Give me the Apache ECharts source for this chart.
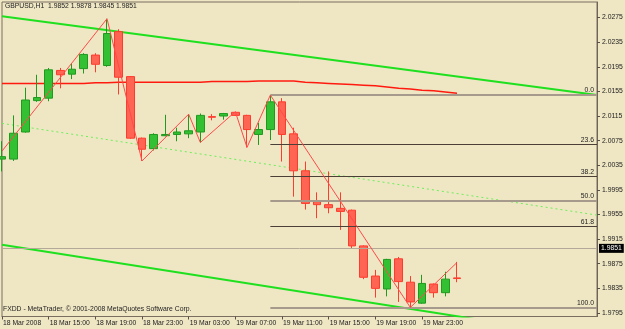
<!DOCTYPE html>
<html lang="en">
<head>
	<meta charset="UTF-8">
	<title>GBPUSD,H1</title>
	<style>
		html,body{background-color: #efe6c3;height: 100%;overflow: hidden;margin: 0;padding: 0;}
		#main{width: 625px;height: 329px;}
	</style>
</head>
<body>
	<div id="main"></div>
	<script src="https://cdn.jsdelivr.net/npm/echarts@6/dist/echarts.min.js"></script>
	<script>
		// hourly bars, 18 Mar 11:00 .. (empty space on the right up to 20 Mar 14:00)
		var categories = [
			'18 Mar 11:00','18 Mar 12:00','18 Mar 13:00','18 Mar 14:00','18 Mar 15:00','18 Mar 16:00','18 Mar 17:00',
			'18 Mar 18:00','18 Mar 19:00','18 Mar 20:00','18 Mar 21:00','18 Mar 22:00','18 Mar 23:00',
			'19 Mar 00:00','19 Mar 01:00','19 Mar 02:00','19 Mar 03:00','19 Mar 04:00','19 Mar 05:00','19 Mar 06:00',
			'19 Mar 07:00','19 Mar 08:00','19 Mar 09:00','19 Mar 10:00','19 Mar 11:00','19 Mar 12:00','19 Mar 13:00',
			'19 Mar 14:00','19 Mar 15:00','19 Mar 16:00','19 Mar 17:00','19 Mar 18:00','19 Mar 19:00','19 Mar 20:00',
			'19 Mar 21:00','19 Mar 22:00','19 Mar 23:00',
			'20 Mar 00:00','20 Mar 01:00','20 Mar 02:00','20 Mar 03:00','20 Mar 04:00','20 Mar 05:00','20 Mar 06:00',
			'20 Mar 07:00','20 Mar 08:00','20 Mar 09:00','20 Mar 10:00','20 Mar 11:00','20 Mar 12:00','20 Mar 13:00','20 Mar 14:00'
		];
		var xTickIndex = [0, 4, 8, 12, 16, 20, 24, 28, 32, 36];
		var xTickText = ['18 Mar 2008','18 Mar 15:00','18 Mar 19:00','18 Mar 23:00','19 Mar 03:00',
			'19 Mar 07:00','19 Mar 11:00','19 Mar 15:00','19 Mar 19:00','19 Mar 23:00'];
		var yTicks = [1.9795, 1.9835, 1.9875, 1.9915, 1.9955, 1.9995, 2.0035, 2.0075, 2.0115, 2.0155, 2.0195, 2.0235, 2.0275];

		var openP = [2.0045,2.0045,2.0089,2.0140,2.0144,2.0189,2.0183,2.0192,2.0214,2.0197,
			2.0252,2.0179,2.0079,2.0062,2.0083,2.0085,2.0086,2.0089,2.0114,2.0115,
			2.0121,2.0116,2.0085,2.0093,2.0138,2.0086,2.0026,1.9976,1.9971,1.9965,
			1.9962,1.9904,1.9855,1.9834,1.9883,1.9845,1.9811,1.9842,1.9828,1.9852];
		var highP = [2.0074,2.0116,2.0161,2.0182,2.0193,2.0193,2.0201,2.0217,2.0217,2.0273,
			2.0256,2.0180,2.0080,2.0087,2.0117,2.0096,2.0118,2.0119,2.0118,2.0120,
			2.0122,2.0117,2.0104,2.0149,2.0144,2.0096,2.0041,1.9991,2.0025,1.9991,
			1.9963,1.9905,1.9865,1.9883,1.9886,1.9855,1.9857,1.9843,1.9862,1.9878];
		var lowP = [2.0025,2.0042,2.0088,2.0138,2.0139,2.0160,2.0175,2.0184,2.0186,2.0195,
			2.0150,2.0078,2.0042,2.0059,2.0082,2.0074,2.0079,2.0072,2.0108,2.0109,
			2.0115,2.0064,2.0068,2.0076,2.0041,1.9984,1.9963,1.9949,1.9957,1.9930,
			1.9899,1.9850,1.9820,1.9822,1.9813,1.9803,1.9810,1.9820,1.9822,1.9845];
		var closeP = [2.0049,2.0087,2.0141,2.0145,2.0190,2.0182,2.0191,2.0215,2.0199,2.0249,
			2.0178,2.0079,2.0061,2.0085,2.0085,2.0089,2.0091,2.0116,2.0113,2.0119,
			2.0116,2.0093,2.0093,2.0138,2.0085,2.0026,1.9973,1.9971,1.9966,1.9960,
			1.9904,1.9853,1.9835,1.9882,1.9846,1.9813,1.9843,1.9828,1.9850,1.9851];

		var maValues = [2.0168,2.0168,2.0168,2.0168,2.0168,2.0168,2.0168,2.0168,2.0169,2.0169,
			2.0170,2.0170,2.0170,2.0170,2.0170,2.0170,2.0170,2.0170,2.0171,2.0171,
			2.0171,2.0171,2.0172,2.0172,2.0172,2.0172,2.0170,2.0169,2.0168,2.0167,
			2.0166,2.0165,2.0164,2.0162,2.0160,2.0159,2.0157,2.0156,2.0154,2.0152];

		// zigzag turning points [bar index, price]
		var zigzag = [[0, 2.0058], [9, 2.0273], [12, 2.0042], [16, 2.0118], [17, 2.0072],
			[20, 2.0122], [21, 2.0064], [23, 2.0149], [35, 1.9804], [39, 1.9877]];

		// trend channel, [bar index, price] at both ends
		var upperChannel = [[0, 2.0277], [51, 2.0149]];
		var midChannel = [[0, 2.0103], [51, 1.9954]];
		var lowerChannel = [[0, 1.9906], [51, 1.9754]];

		var fibStart = 23;
		var fibLabels = ['0.0', '23.6', '38.2', '50.0', '61.8', '100.0'];
		var fibPrices = [2.0150, 2.0069, 2.0017, 1.9977, 1.9936, 1.9803];

		var bid = 1.9851;
		var header = 'GBPUSD,H1  1.9852 1.9878 1.9845 1.9851';
		var footer = 'FXDD - MetaTrader, \u00a9 2001-2008 MetaQuotes Software Corp.';

		var font = '"Liberation Sans", Arial, sans-serif';
		var fs = 6.8;
		var chart = echarts.init(document.getElementById('main'));

		var ohlc = [];
		for (var i = 0; i < openP.length; i++) {
			ohlc.push([openP[i], closeP[i], lowP[i], highP[i]]);
		}
		var lastIdx = categories.length - 1;
		var marks = [];
		for (var k = 0; k < fibLabels.length; k++) {
			var light = fibLabels[k] === '0.0' || fibLabels[k] === '50.0' || fibLabels[k] === '100.0';
			marks.push([{
				coord: [fibStart, fibPrices[k]],
				lineStyle: {color: light ? '#a59a8b' : '#4a4038', width: light ? 2 : 1, type: 'solid'},
				label: {show: true, formatter: fibLabels[k], position: 'insideEndTop', distance: [3, 1],
					color: '#222', fontSize: fs, fontFamily: font}
			}, {coord: [lastIdx, fibPrices[k]]}]);
		}
		marks.push({
			yAxis: bid,
			lineStyle: {color: '#b3a998', width: 1, type: 'solid'},
			label: {show: true, position: 'end', distance: 2, formatter: bid.toFixed(4),
				color: '#fff', backgroundColor: '#000', padding: [1, 2, 1, 2], fontSize: fs, fontFamily: font}
		});

		var option = {
			animation: false,
			backgroundColor: '#efe6c3',
			grid: {left: 2, right: 28, top: 2, bottom: 12.5, show: true, borderColor: '#7a6e60', borderWidth: 1, outerBoundsMode: 'none'},
			graphic: [
				{type: 'text', left: 5, top: 3, z: 100, style: {text: header, fill: '#222', fontSize: fs, fontFamily: font}},
				{type: 'text', left: 3, top: 306, z: 100, style: {text: footer, fill: '#222', fontSize: fs, fontFamily: font}}
			],
			xAxis: {
				type: 'category',
				data: categories,
				boundaryGap: false,
				axisLine: {show: true, lineStyle: {color: '#7a6e60'}},
				axisTick: {show: true, length: 3, lineStyle: {color: '#5a5048'},
					interval: function (idx) { return xTickIndex.indexOf(idx) >= 0; }},
				axisLabel: {
					interval: function (idx) { return xTickIndex.indexOf(idx) >= 0; },
					formatter: function (v, idx) { return xTickText[xTickIndex.indexOf(idx)] || ''; },
					align: 'left', margin: 3, padding: [0, 0, 0, 1],
					color: '#222', fontSize: fs, fontFamily: font
				},
				splitLine: {show: false}
			},
			yAxis: {
				type: 'value',
				position: 'right',
				min: 1.97893,
				max: 2.03002,
				axisLine: {show: true, lineStyle: {color: '#6e6458'}},
				axisTick: {show: true, length: 3, customValues: yTicks, lineStyle: {color: '#5a5048'}},
				axisLabel: {customValues: yTicks, margin: 5, color: '#222', fontSize: fs, fontFamily: font,
					formatter: function (v) { return v.toFixed(4); }},
				splitLine: {show: false}
			},
			series: [
				{
					name: 'channel mid', type: 'line', z: 1, symbol: 'none', silent: true,
					data: midChannel,
					lineStyle: {color: '#6cf05c', width: 1, type: [2, 3]},
					markLine: {silent: true, symbol: ['none', 'none'], animation: false, data: marks}
				},
				{
					name: 'channel top', type: 'line', z: 2, symbol: 'none', silent: true,
					data: upperChannel, lineStyle: {color: '#1ee01e', width: 2}
				},
				{
					name: 'channel bottom', type: 'line', z: 2, symbol: 'none', silent: true,
					data: lowerChannel, lineStyle: {color: '#1ee01e', width: 2}
				},
				{
					name: 'MA', type: 'line', z: 3, symbol: 'none', silent: true,
					data: maValues, lineStyle: {color: '#ff1a10', width: 1.5}
				},
				{
					name: 'GBPUSD', type: 'candlestick', z: 4, barWidth: 8,
					data: ohlc,
					itemStyle: {color: '#33c033', color0: '#ff6552', borderColor: '#1f9a1f', borderColor0: '#ff3b2e', borderWidth: 1}
				},
				{
					name: 'ZigZag', type: 'line', z: 5, symbol: 'none', silent: true,
					data: zigzag, lineStyle: {color: '#ff4a4a', width: 1}
				}
			]
		};
		chart.setOption(option);
	</script>
</body>
</html>
